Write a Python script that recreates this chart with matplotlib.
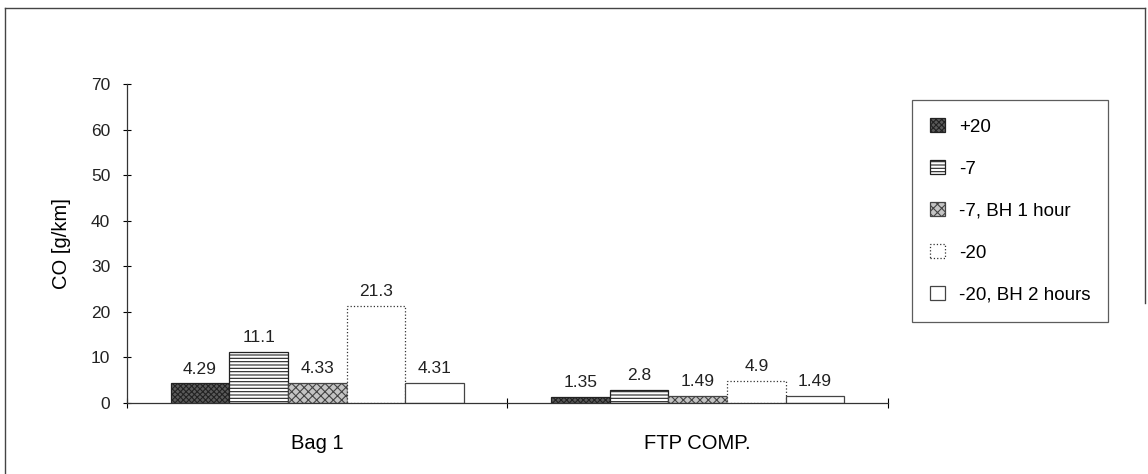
import numpy as np
import matplotlib.pyplot as plt
from matplotlib.lines import Line2D

plt.rcParams['font.family'] = ['Liberation Sans', 'DejaVu Sans']
plt.rcParams['hatch.linewidth'] = 0.8

categories = ['Bag 1', 'FTP COMP.']
series = ['+20', '-7', '-7, BH 1 hour', '-20', '-20, BH 2 hours']
values = [
    [4.29, 1.35],
    [11.1, 2.8],
    [4.33, 1.49],
    [21.3, 4.9],
    [4.31, 1.49],
]
labels = [
    ['4.29', '1.35'],
    ['11.1', '2.8'],
    ['4.33', '1.49'],
    ['21.3', '4.9'],
    ['4.31', '1.49'],
]
fills = ['#5a5a5a', 'white', '#c4c4c4', 'white', 'white']
hatches = ['xxxxxx', '-----', 'xxxx', None, None]
edges = ['#222222', '#222222', '#444444', '#333333', '#444444']
styles = ['-', '-', '-', ':', '-']

fig = plt.figure(figsize=(11.48, 4.74), dpi=100)
ax = fig.add_axes([0.1106, 0.1498, 0.6629, 0.673])

x = np.arange(len(categories))
w = 0.154
for i, s in enumerate(series):
    bars = ax.bar(x + (i - 2) * w, values[i], w, color=fills[i], hatch=hatches[i],
                  edgecolor=edges[i], linewidth=0.9, linestyle=styles[i], label=s)
    for b, t in zip(bars, labels[i]):
        ax.annotate(t, (b.get_x() + b.get_width() / 2, b.get_height()),
                    xytext=(0, 5), textcoords='offset points',
                    ha='center', va='bottom', fontsize=12.5, color='#222222')

ax.set_xlim(-0.5, 1.5)
ax.set_ylim(0, 70)
ax.set_yticks(range(0, 71, 10))
ax.set_xticks(x)
ax.set_xticklabels(categories, fontsize=14.5)
ax.set_xticks([-0.5, 0.5, 1.5], minor=True)
ax.tick_params(axis='x', which='major', length=0, pad=22)
ax.tick_params(axis='x', which='minor', direction='inout', length=7, width=0.8)
ax.tick_params(axis='y', direction='inout', length=6, width=0.8, labelsize=12.5,
               pad=9, labelcolor='#222222')
ax.set_ylabel('CO [g/km]', fontsize=14.5, labelpad=14)

for sp in ['top', 'right']:
    ax.spines[sp].set_visible(False)
for sp in ['left', 'bottom']:
    ax.spines[sp].set_linewidth(0.9)
    ax.spines[sp].set_color('#333333')

leg = ax.legend(loc='upper left', bbox_to_anchor=(912 / 1148, 1 - 100 / 474),
                bbox_transform=fig.transFigure, fontsize=13.5, frameon=True,
                fancybox=False, edgecolor='#333333', handlelength=0.8,
                handleheight=0.8, labelspacing=1.3, borderpad=0.95,
                handletextpad=0.75, borderaxespad=0)
leg.get_frame().set_linewidth(0.9)

# outer frame of the scanned figure
fig.add_artist(Line2D([5 / 1148, 5 / 1148], [0, 1 - 8 / 474], color='#444444', lw=1.0))
fig.add_artist(Line2D([5 / 1148, 1145 / 1148], [1 - 8 / 474, 1 - 8 / 474], color='#444444', lw=1.0))
fig.add_artist(Line2D([1145 / 1148, 1145 / 1148], [1 - 8 / 474, 0.36], color='#444444', lw=1.0))

fig.savefig('out.png', dpi=100)
